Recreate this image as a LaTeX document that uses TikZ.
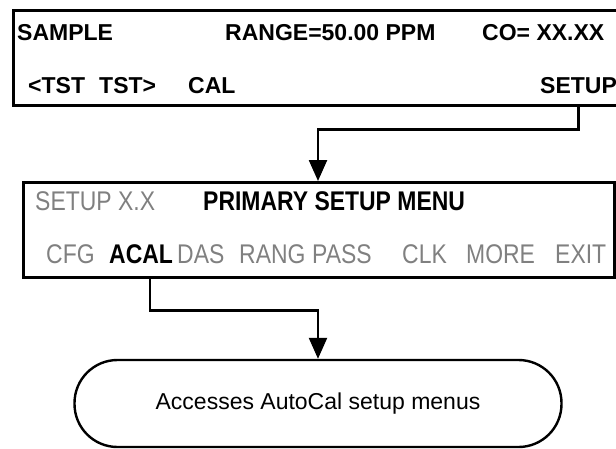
\documentclass[tikz,border=0pt]{standalone}
\usepackage{fontspec}
\setmainfont{Liberation Sans}
\newfontfamily\narrowfont[FakeStretch=0.85]{Liberation Sans}
\usetikzlibrary{arrows.meta, positioning, calc}
\definecolor{cGrey}{RGB}{128,128,128}
\tikzset{
	dispbox/.style ={rectangle, draw=black, line width=2.5pt, inner sep=0pt},
	endbox/.style  ={rectangle, rounded corners=43pt, draw=black, line width=2.4pt, align=center, inner sep=0pt},
	toptext/.style ={anchor=base west, inner sep=0pt, font=\fontsize{23}{27}\selectfont\bfseries},
	keyon/.style   ={anchor=base west, inner sep=0pt, font=\narrowfont\fontsize{27}{31}\selectfont\bfseries, text=black},
	keyoff/.style  ={anchor=base west, inner sep=0pt, font=\narrowfont\fontsize{27}{31}\selectfont, text=cGrey},
	flow/.style    ={-{Triangle[length=21pt, width=18pt]}, line width=2.4pt},
}
\begin{document}
\begin{tikzpicture}[x=1pt, y=-1pt]
	\clip (0,0) rectangle (616,448);
	% front panel display
	\node[dispbox, minimum width=618pt, minimum height=95pt, anchor=north west] (disp) at (12,9) {};
	\node[toptext] (samp)  at (17,40)  {SAMPLE};
	\node[toptext] (range) at (225,40) {RANGE=50.00 PPM};
	\node[toptext] (conc)  at (482,40) {CO= XX.XX};
	\node[toptext] (tstl)  at (28,93)  {<TST};
	\node[toptext] (tstr)  at (99,93)  {TST>};
	\node[toptext] (cal)   at (188,93) {CAL};
	\node[toptext] (setup) at (540,93) {SETUP};
	% setup menu display
	\node[dispbox, minimum width=591pt, minimum height=95pt, anchor=north west] (menu) at (22,181) {};
	\node[keyoff] (ver)   at (35,210)  {SETUP X.X};
	\node[keyon]  (title) at (203,210) {PRIMARY SETUP MENU};
	\node[keyoff] (cfg)   at (46,263)  {CFG};
	\node[keyon]  (acal)  at (109,263) {ACAL};
	\node[keyoff] (das)   at (177,263) {DAS};
	\node[keyoff] (rang)  at (239,263) {RANG};
	\node[keyoff] (pass)  at (312,263) {PASS};
	\node[keyoff] (clk)   at (402,263) {CLK};
	\node[keyoff] (more)  at (466,263) {MORE};
	\node[keyoff] (exit)  at (555,263) {EXIT};
	% result
	\node[endbox, minimum width=487pt, minimum height=87pt] (acc) at (318,403.5) {\fontsize{23}{27}\selectfont Accesses AutoCal setup menus};
	\draw[flow] (setup.south |- disp.south) -- ++(0,23) -| (acc.north |- menu.north);
	\draw[flow] ([xshift=9pt]acal.south |- menu.south) -- ++(0,32) -| (acc.north);
\end{tikzpicture}
\end{document}
